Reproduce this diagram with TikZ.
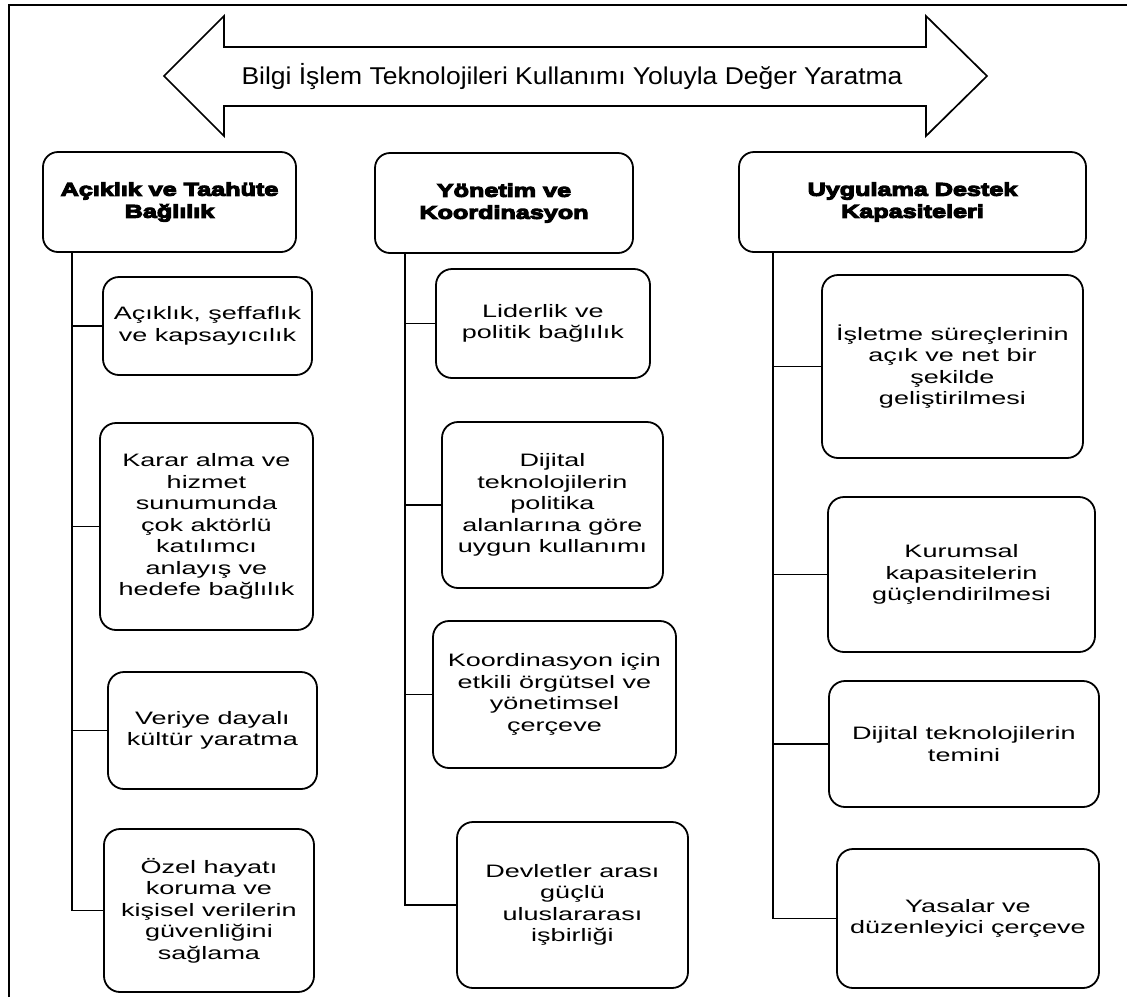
\documentclass[tikz,border=0pt]{standalone}
\usepackage{fontspec}
\setmainfont{Liberation Sans}
\newfontfamily\titlefont[FakeStretch=1.09]{Liberation Sans}
\newfontfamily\bodyfont[FakeStretch=1.5]{Liberation Sans}
\newfontfamily\headfont[FakeStretch=1.36,FakeBold=6]{Liberation Sans Bold}

\begin{document}
\begin{tikzpicture}[x=1pt,y=-1pt,
  frameline/.style={line width=2.5pt},
  conn/.style={line width=1.9pt},
  headbox/.style={draw, line width=1.8pt, rounded corners=15pt, fill=white,
    align=center, inner sep=0pt,
    font=\headfont\fontsize{18.5}{22}\selectfont},
  itembox/.style={draw, line width=1.8pt, rounded corners=16pt, fill=white,
    align=center, inner sep=0pt,
    font=\bodyfont\fontsize{18}{21.5}\selectfont},
  bigarrow/.style={draw, line width=1.7pt, fill=white, line join=miter}]

\useasboundingbox (0,0) rectangle (1127,997);

% outer frame (top and left edges)
\draw[frameline] (9,997) -- (9,5) -- (1127,5);

% double-headed banner arrow
\draw[bigarrow] (164,76) -- (224,16) -- (224,47) -- (926,47) -- (926,16)
  -- (987,76) -- (926,136) -- (926,106) -- (224,106) -- (224,136) -- cycle;
\node[anchor=base, font=\titlefont\fontsize{24.3}{28}\selectfont] (title) at (572,84)
  {Bilgi İşlem Teknolojileri Kullanımı Yoluyla Değer Yaratma};

% column headers
\node[headbox, minimum width=253pt, minimum height=100pt] (H1) at (169.5,202)
  {Açıklık ve Taahüte\\Bağlılık};
\node[headbox, minimum width=258pt, minimum height=100pt] (H2) at (504,203)
  {Yönetim ve\\Koordinasyon};
\node[headbox, minimum width=347pt, minimum height=100pt] (H3) at (912.5,202)
  {Uygulama Destek\\Kapasiteleri};

% first column
\node[itembox, minimum width=209pt, minimum height=98pt] (A1) at (207.5,326)
  {Açıklık, şeffaflık\\ve kapsayıcılık};
\node[itembox, minimum width=213pt, minimum height=207pt] (A2) at (206.5,526.5)
  {Karar alma ve\\hizmet\\sunumunda\\çok aktörlü\\katılımcı\\anlayış ve\\hedefe bağlılık};
\node[itembox, minimum width=209pt, minimum height=117pt] (A3) at (212.5,730.5)
  {Veriye dayalı\\kültür yaratma};
\node[itembox, minimum width=210pt, minimum height=163pt] (A4) at (209,910.5)
  {Özel hayatı\\koruma ve\\kişisel verilerin\\güvenliğini\\sağlama};

% second column
\node[itembox, minimum width=214pt, minimum height=109pt] (B1) at (543,323.5)
  {Liderlik ve\\politik bağlılık};
\node[itembox, minimum width=221pt, minimum height=166pt] (B2) at (552.5,505)
  {Dijital\\teknolojilerin\\politika\\alanlarına göre\\uygun kullanımı};
\node[itembox, minimum width=243pt, minimum height=147pt] (B3) at (554.5,694.5)
  {Koordinasyon için\\etkili örgütsel ve\\yönetimsel\\çerçeve};
\node[itembox, minimum width=231pt, minimum height=166pt] (B4) at (572.5,905)
  {Devletler arası\\güçlü\\uluslararası\\işbirliği};

% third column
\node[itembox, minimum width=261pt, minimum height=183pt] (C1) at (952.5,366.5)
  {İşletme süreçlerinin\\açık ve net bir\\şekilde\\geliştirilmesi};
\node[itembox, minimum width=267pt, minimum height=155pt] (C2) at (961.5,574.5)
  {Kurumsal\\kapasitelerin\\güçlendirilmesi};
\node[itembox, minimum width=270pt, minimum height=126pt] (C3) at (964,744)
  {Dijital teknolojilerin\\temini};
\node[itembox, minimum width=262pt, minimum height=139pt] (C4) at (968,918.5)
  {Yasalar ve\\düzenleyici çerçeve};

% trunk start points under each header
\coordinate (t1) at (H1.south -| 72,0);
\coordinate (t2) at (H2.south -| 405,0);
\coordinate (t3) at (H3.south -| 773,0);

% trunks with the last branch
\draw[conn] (t1) |- (A4.west);
\draw[conn] (t2) |- (B4.west);
\draw[conn] (t3) |- (C4.west);

% remaining branches
\foreach \b in {A1,A2,A3} \draw[conn] (t1 |- \b.west) -- (\b.west);
\foreach \b in {B1,B2,B3} \draw[conn] (t2 |- \b.west) -- (\b.west);
\foreach \b in {C1,C2,C3} \draw[conn] (t3 |- \b.west) -- (\b.west);
\end{tikzpicture}
\end{document}
